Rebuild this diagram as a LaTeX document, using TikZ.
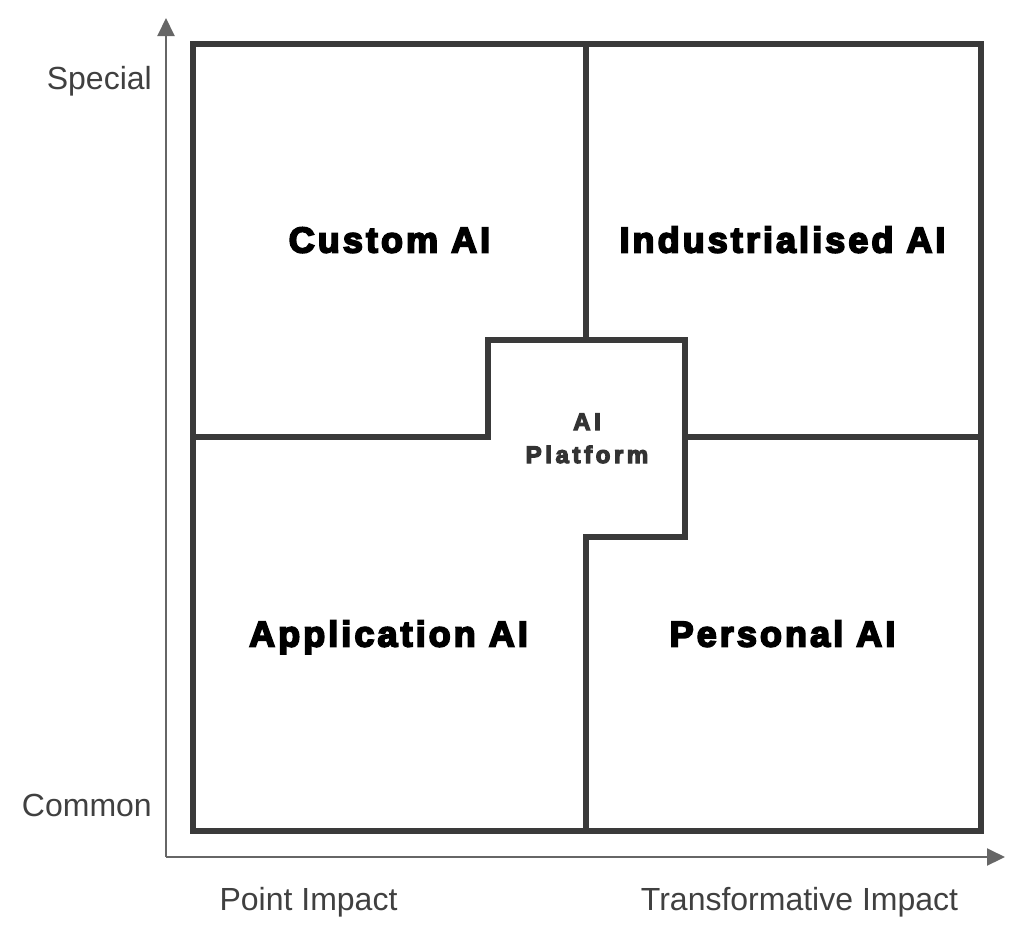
\documentclass[tikz,border=0pt]{standalone}
\usepackage{fontspec}
\setmainfont{Liberation Sans}
\newfontfamily\heavyfont{Liberation Sans}[BoldFeatures={FakeBold=5,LetterSpace=8.5}]
\newfontfamily\heavysmallfont{Liberation Sans}[BoldFeatures={FakeBold=5,LetterSpace=15}]
\usetikzlibrary{arrows.meta}
\definecolor{boxline}{HTML}{3A3A3A}
\definecolor{axisline}{HTML}{666666}
\definecolor{axistext}{HTML}{404040}
\definecolor{midtext}{HTML}{333333}
\begin{document}
\begin{tikzpicture}[x=1pt,y=-1pt,
  frame/.style={draw=boxline,line width=6pt,line join=miter},
  axisarrow/.style={draw=axisline,line width=2pt,-{Triangle[length=18pt,width=17pt]}},
  quad/.style={font=\heavyfont\fontsize{36}{43}\selectfont\bfseries,text=black,inner sep=0pt,anchor=base},
  axlabel/.style={font=\fontsize{32}{38}\selectfont,text=axistext,inner sep=0pt,anchor=base},
  midlabel/.style={font=\heavysmallfont\fontsize{24}{33}\selectfont\bfseries,text=midtext,inner sep=0pt,anchor=base}]
\useasboundingbox (0,0) rectangle (1024,938);
% axes
\coordinate (origin) at (166,857);
\coordinate (ytip) at (166,18);
\coordinate (xtip) at (1005,857);
\draw[axisarrow] (origin) -- (ytip);
\draw[axisarrow] (origin) -- (xtip);
% frame
\draw[frame] (193,44) rectangle (981,831);
\draw[frame] (586,44) -- (586,340);
\draw[frame] (685,437) -- (981,437);
\draw[frame] (193,437) -- (488,437) -- (488,340) -- (685,340) -- (685,537) -- (586,537) -- (586,831);
% labels
\node[quad] (custom) at (389.5,252.5) {Custom AI};
\node[quad] (indus) at (782.5,252.5) {Industrialised AI};
\node[quad] (appl) at (388.5,646.5) {Application AI};
\node[quad] (pers) at (782.5,646.5) {Personal AI};
\node[midlabel] (ai) at (587,430) {AI};
\node[midlabel] (plat) at (587,463) {Platform};
\node[axlabel,anchor=base east] (special) at (152,89) {Special};
\node[axlabel,anchor=base east] (common) at (152,816.5) {Common};
\node[axlabel] (point) at (308.5,910) {Point Impact};
\node[axlabel] (trans) at (799.5,910) {Transformative Impact};
\end{tikzpicture}
\end{document}
